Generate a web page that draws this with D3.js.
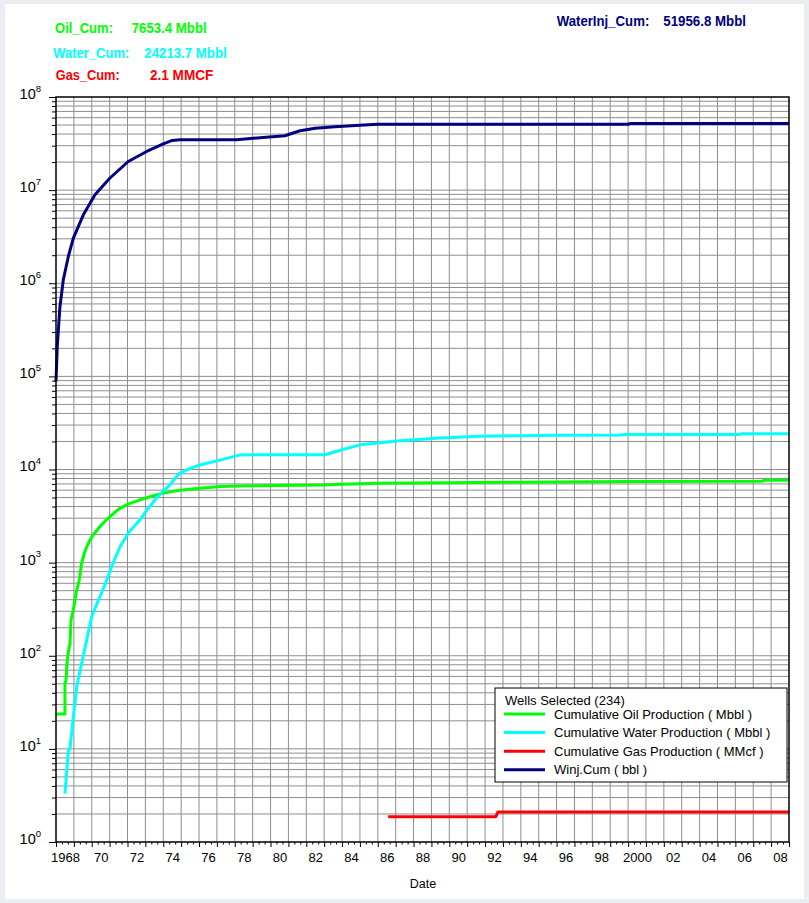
<!DOCTYPE html>
<html>
<head>
<meta charset="utf-8">
<script src="https://cdn.jsdelivr.net/npm/d3@7"></script>
<style>
  html, body { margin: 0; padding: 0; background: #eaeef3; }
  svg { display: block; font-family: Arial, "Liberation Sans", sans-serif; }
</style>
</head>
<body>
<svg id="chart" width="809" height="903"></svg>
<script>
// ---- data: [decimal year, cumulative value] ----
const oilCum = [
  [1968.04, 23.7], [1968.50, 23.7], [1968.50, 50], [1968.56, 55], [1968.63, 90],
  [1968.74, 125], [1968.78, 130], [1968.84, 243], [1968.97, 310], [1969.12, 470],
  [1969.30, 650], [1969.44, 1000], [1969.58, 1250], [1969.72, 1480], [1969.90, 1750],
  [1970.09, 1990], [1970.46, 2440], [1970.75, 2800], [1971.02, 3120], [1971.30, 3480],
  [1971.58, 3840], [1972.10, 4300], [1972.70, 4710], [1973.25, 5100], [1973.82, 5470],
  [1974.40, 5750], [1974.93, 5990], [1976.05, 6300], [1977.20, 6550], [1978.30, 6670],
  [1983.00, 6800], [1984.00, 6950], [1986.00, 7100], [1990.00, 7200], [1994.00, 7300],
  [1998.00, 7400], [2000.00, 7450], [2007.50, 7500], [2007.60, 7650], [2009.00, 7653.4]
];
const waterCum = [
  [1968.50, 3.3], [1968.69, 9.5], [1968.78, 10], [1968.97, 22], [1969.16, 46.5],
  [1969.44, 84], [1969.72, 148], [1970.00, 265], [1970.46, 431], [1970.84, 650],
  [1971.19, 990], [1971.58, 1480], [1972.10, 2150], [1972.70, 2880], [1973.10, 3700],
  [1973.54, 4700], [1974.00, 5900], [1974.38, 6840], [1974.65, 8000], [1974.93, 9150],
  [1975.50, 10300], [1976.05, 11200], [1977.17, 12600], [1978.29, 14350], [1983.04, 14400],
  [1984.00, 16300], [1985.00, 18400], [1987.24, 20300], [1989.48, 21800], [1991.70, 22700],
  [1993.95, 23100], [1996.00, 23300], [1999.50, 23500], [2000.00, 23700], [2006.20, 23800],
  [2006.40, 24200], [2009.00, 24213.7]
];
const gasCum = [
  [1986.58, 1.87], [1992.60, 1.87], [1992.72, 2.1], [2009.00, 2.1]
];
const winjCum = [
  [1968.00, 8.8e4], [1968.07, 2.09e5], [1968.22, 5.6e5], [1968.41, 1.09e6], [1968.69, 1.94e6],
  [1968.97, 3.05e6], [1969.53, 5.43e6], [1970.18, 8.9e6], [1971.02, 1.35e7], [1972.04, 2.03e7],
  [1973.07, 2.6e7], [1974.00, 3.14e7], [1974.50, 3.42e7], [1974.93, 3.47e7], [1978.10, 3.47e7],
  [1979.41, 3.65e7], [1980.80, 3.84e7], [1981.65, 4.34e7], [1982.50, 4.61e7], [1983.60, 4.79e7],
  [1985.00, 4.97e7], [1986.00, 5.09e7], [2000.00, 5.10e7], [2000.10, 5.19e7], [2009.00, 5.19568e7]
];

const seriesNames = [
  "Cumulative Oil Production ( Mbbl )",
  "Cumulative Water Production ( Mbbl )",
  "Cumulative Gas Production ( MMcf )",
  "Winj.Cum ( bbl )"
];
const seriesColors = ["#00ff00", "#00ffff", "#ff0000", "#000080"];
const seriesData = [oilCum, waterCum, gasCum, winjCum];

const summaryLabels = ["Oil_Cum:", "Water_Cum:", "Gas_Cum:"];
const summaryValues = ["7653.4 Mbbl", "24213.7 Mbbl", "2.1 MMCF"];
const injLabel = "WaterInj_Cum:";
const injValue = "51956.8 Mbbl";

const tickYears = d3.range(1968, 2009, 2);
const tickLabels = ["1968", "70", "72", "74", "76", "78", "80", "82", "84", "86", "88",
                    "90", "92", "94", "96", "98", "2000", "02", "04", "06", "08"];
const decadeExps = [0, 1, 2, 3, 4, 5, 6, 7, 8];

// ---- layout ----
const W = 809, H = 903;
const plot = { left: 56, right: 789, top: 97, bottom: 842 };

const svg = d3.select("#chart");

// panel
svg.append("rect").attr("x", 0).attr("y", 0).attr("width", W).attr("height", H).attr("fill", "#eaeef3");
svg.append("rect").attr("x", 5).attr("y", 4).attr("width", 799).attr("height", 895).attr("fill", "#ffffff");

const x = d3.scaleLinear().domain([1968, 2009]).range([plot.left, plot.right]);
const y = d3.scaleLog().domain([1, 1e8]).range([plot.bottom, plot.top]);

// grid
const gridYears = d3.range(1969, 2009);
const gridVals = [];
for (let k = 0; k < 8; k++) for (let m = 1; m <= 9; m++) {
  const v = m * Math.pow(10, k);
  if (v > 1 && v < 1e8) gridVals.push(v);
}
const grid = svg.append("g").attr("stroke", "#8e8e8e").attr("stroke-width", 1);
grid.selectAll("line.v").data(gridYears).join("line")
  .attr("x1", d => x(d)).attr("x2", d => x(d))
  .attr("y1", plot.top).attr("y2", plot.bottom);
grid.selectAll("line.h").data(gridVals).join("line")
  .attr("x1", plot.left).attr("x2", plot.right)
  .attr("y1", d => y(d)).attr("y2", d => y(d));

// series
const line = d3.line().x(d => x(d[0])).y(d => y(d[1]));
const seriesG = svg.append("g").attr("fill", "none").attr("stroke-width", 3)
  .attr("stroke-linejoin", "round");
seriesData.forEach((s, i) => {
  seriesG.append("path").datum(s).attr("d", line).attr("stroke", seriesColors[i]);
});

// frame
svg.append("rect")
  .attr("x", plot.left).attr("y", plot.top)
  .attr("width", plot.right - plot.left).attr("height", plot.bottom - plot.top)
  .attr("fill", "none").attr("stroke", "#000").attr("stroke-width", 1.5);

// y axis: decades with superscript exponents, plus minor ticks
const yMajor = svg.append("g").attr("transform", `translate(${plot.left},0)`)
  .call(d3.axisLeft(y).tickValues(decadeExps.map(e => Math.pow(10, e)))
    .tickSize(7).tickPadding(8).tickFormat(() => "10"));
yMajor.select(".domain").remove();
yMajor.selectAll("text").attr("font-size", 14.5).attr("fill", "#000")
  .attr("font-family", "Arial, 'Liberation Sans', sans-serif")
  .attr("dy", "0.1em")
  .each(function(d) {
    d3.select(this).append("tspan").attr("dy", "-0.75em").attr("font-size", 9.5)
      .text(Math.round(Math.log10(d)));
  });
const yMinor = svg.append("g").attr("transform", `translate(${plot.left},0)`)
  .call(d3.axisLeft(y).tickValues(gridVals.filter(v => !decadeExps.some(e => Math.pow(10, e) === v)))
    .tickSize(4).tickFormat(""));
yMinor.select(".domain").remove();

// x axis: yearly ticks, minor ticks, and labels centred on the year
const xMajor = svg.append("g").attr("transform", `translate(0,${plot.bottom})`)
  .call(d3.axisBottom(x).tickValues(d3.range(1968, 2010)).tickSize(5).tickFormat(""));
xMajor.select(".domain").remove();
const minorYears = [];
d3.range(1968, 2009).forEach(yr => { minorYears.push(yr + 1 / 3, yr + 2 / 3); });
const xMinor = svg.append("g").attr("transform", `translate(0,${plot.bottom})`)
  .call(d3.axisBottom(x).tickValues(minorYears).tickSize(2.5).tickFormat(""));
xMinor.select(".domain").remove();
const xLabels = svg.append("g").attr("transform", `translate(0,${plot.bottom})`)
  .call(d3.axisBottom(x).tickValues(tickYears.map(t => t + 0.5)).tickSize(0).tickPadding(11)
    .tickFormat((d, i) => tickLabels[i]));
xLabels.select(".domain").remove();
xLabels.selectAll("text").attr("font-size", 13).attr("fill", "#000")
  .attr("font-family", "Arial, 'Liberation Sans', sans-serif");

svg.append("text").attr("x", 423).attr("y", 888).attr("text-anchor", "middle")
  .attr("font-size", 12.5).attr("fill", "#000").text("Date");

// summary header (bold, horizontally condensed)
function headText(tx, ty, str, color, width) {
  svg.append("text").attr("x", tx).attr("y", ty)
    .attr("font-size", 15).attr("font-weight", "bold").attr("fill", color)
    .attr("textLength", width).attr("lengthAdjust", "spacingAndGlyphs")
    .text(str);
}
const headY = [33, 57.7, 80.4];
const headLabelX = [55, 53.3, 55.7];
const headLabelW = [58, 76, 64];
const headValueX = [131.7, 144.3, 150];
const headValueW = [75, 82.4, 63.3];
summaryLabels.forEach((t, i) => {
  headText(headLabelX[i], headY[i], t, seriesColors[i], headLabelW[i]);
  headText(headValueX[i], headY[i], summaryValues[i], seriesColors[i], headValueW[i]);
});
headText(556.7, 26, injLabel, seriesColors[3], 92.6);
headText(663.3, 26, injValue, seriesColors[3], 82.7);

// legend
const lg = svg.append("g").attr("transform", "translate(495,688)");
lg.append("rect").attr("width", 292).attr("height", 94).attr("fill", "#fff")
  .attr("stroke", "#000").attr("stroke-width", 1);
lg.append("text").attr("x", 10).attr("y", 16.5).attr("font-size", 13).attr("fill", "#000")
  .text("Wells Selected (234)");
seriesNames.forEach((name, i) => {
  const ly = 26 + i * 18.6;
  lg.append("line").attr("x1", 9).attr("x2", 50).attr("y1", ly).attr("y2", ly)
    .attr("stroke", seriesColors[i]).attr("stroke-width", 3);
  lg.append("text").attr("x", 59).attr("y", ly + 4.5).attr("font-size", 13).attr("fill", "#000")
    .text(name);
});
</script>
</body>
</html>
